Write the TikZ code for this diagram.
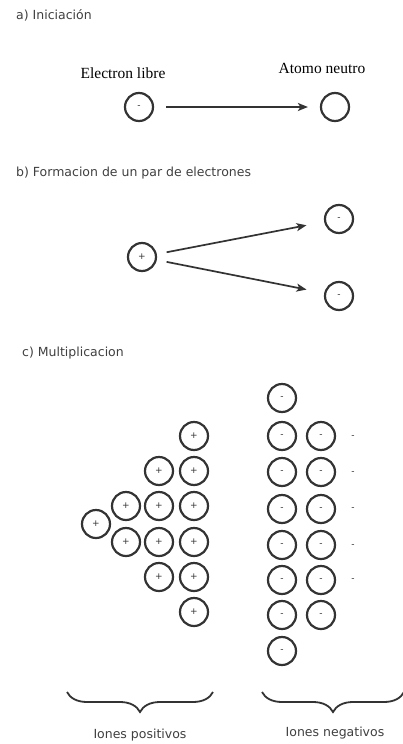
\documentclass[tikz,border=0pt]{standalone}
\usepackage{fontspec}
\setmainfont{Liberation Serif}
\newfontfamily\hsans{DejaVu Sans}
\usetikzlibrary{arrows.meta,decorations.pathreplacing}
\definecolor{ink}{HTML}{333333}
\definecolor{headc}{HTML}{404040}
\begin{document}
\begin{tikzpicture}[x=1pt,y=-1pt,
  atom/.style={circle,draw=ink,line width=2.2pt,minimum size=28pt,inner sep=0pt,
    font=\hsans\fontsize{9}{9}\selectfont,text=ink},
  sgn/.style={inner sep=0pt,font=\hsans\fontsize{9}{9}\selectfont,text=ink},
  head/.style={anchor=west,inner sep=0pt,font=\hsans\fontsize{12.5}{14}\selectfont,text=headc},
  lab/.style={inner sep=0pt,font=\fontsize{15.5}{17}\selectfont,text=black},
  foot/.style={inner sep=0pt,font=\hsans\fontsize{12.5}{14}\selectfont,text=headc},
  arr/.style={draw=ink,line width=1.7pt,-{Stealth[length=10pt,width=8pt,inset=2.5pt]}},
  brc/.style={draw=ink,line width=1.8pt,decorate,decoration={brace,mirror,amplitude=20pt}}]
\useasboundingbox[fill=white] (0,0) rectangle (402,744);

% a) Iniciacion
\node[head] (ha) at (16,15) {a) Iniciación};
\node[lab] (le) at (123,73) {Electron libre};
\node[lab] (ln) at (322,68) {Atomo neutro};
\node[atom] (e) at (139,107) {-};
\node[atom] (n) at (335,107) {};
\draw[arr,shorten <=12pt,shorten >=12pt] (e) -- (n);

% b) Formacion de un par de electrones
\node[head] (hb) at (16,173) {b) Formacion de un par de electrones};
\node[atom] (p) at (142,257) {+};
\node[atom] (t) at (339,219) {-};
\node[atom] (b) at (339,296) {-};
\draw[arr,shorten <=10pt,shorten >=18pt] (p) -- (t);
\draw[arr,shorten <=10pt,shorten >=18pt] (p) -- (b);

% c) Multiplicacion
\node[head] (hc) at (22,353) {c) Multiplicacion};

% positive ions
\node[atom] (q1) at (96,524) {+};
\node[atom] (q2a) at (126,506) {+};
\node[atom] (q2b) at (126,542) {+};
\node[atom] (q3a) at (159,471) {+};
\node[atom] (q3b) at (159,506) {+};
\node[atom] (q3c) at (159,542) {+};
\node[atom] (q3d) at (159,577) {+};
\node[atom] (q4a) at (194,436) {+};
\node[atom] (q4b) at (194,471) {+};
\node[atom] (q4c) at (194,506) {+};
\node[atom] (q4d) at (194,542) {+};
\node[atom] (q4e) at (194,577) {+};
\node[atom] (q4f) at (194,612) {+};

% negative ions
\foreach \y [count=\i] in {398,436,472,509,545,580,615,651}{
  \node[atom] (m1\i) at (282,\y) {-};
}
\foreach \y [count=\i] in {436,472,509,545,580,615}{
  \node[atom] (m2\i) at (321,\y) {-};
}
\foreach \y [count=\i] in {437,473,509,546,580}{
  \node[sgn] (d\i) at (353,\y) {-};
}

% braces
\coordinate (bl1) at (67,692);
\coordinate (bl2) at (213,692);
\coordinate (br1) at (262,692);
\coordinate (br2) at (404,692);
\draw[brc] (bl1) -- (bl2);
\draw[brc] (br1) -- (br2);
\node[foot] (fp) at (140,735) {Iones positivos};
\node[foot] (fn) at (335,733) {Iones negativos};
\end{tikzpicture}
\end{document}
